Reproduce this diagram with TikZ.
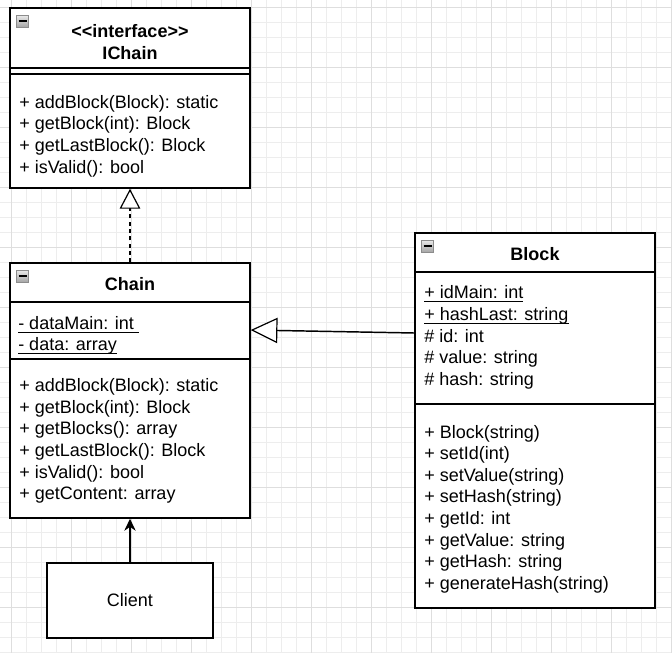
\documentclass[tikz,border=0pt]{standalone}
\usepackage{fontspec}
\setmainfont{Liberation Sans}
\usetikzlibrary{positioning, calc, arrows.meta}

\newcommand{\statm}[1]{\setbox0\hbox{#1}\rlap{\rule[-2.4pt]{\wd0}{0.6pt}}\box0}

\tikzset{
  cls/.style={draw=black, line width=1.1pt, fill=white, rectangle, inner sep=0pt},
  title/.style={font=\fontsize{13.5}{16.2}\selectfont\bfseries, align=center, inner sep=0pt},
  members/.style={font=\fontsize{13.5}{16.2}\selectfont, align=left, anchor=west, inner sep=0pt},
  sep/.style={line width=1.1pt},
  minigrid/.style={color=black!7, line width=0.5pt},
  majorgrid/.style={color=black!13, line width=0.6pt},
  fold/.style={draw=black!45, line width=0.5pt, top color=black!8, bottom color=black!35, minimum size=9pt, inner sep=0pt},
  assoc/.style={line width=1.1pt, -{Stealth[length=9pt, width=8.5pt]}},
  realize/.style={line width=1.1pt, dash pattern=on 3pt off 2.5pt, -{Triangle[length=15pt, width=15.5pt, fill=white, line width=0.9pt]}},
  inherit/.style={line width=1.1pt, -{Triangle[length=20pt, width=19pt, fill=white, line width=0.9pt]}},
}

\begin{document}
\begin{tikzpicture}[x=0.75pt, y=-0.75pt]
\useasboundingbox (0,0) rectangle (672,653);

% grid
\foreach \x in {11,26,...,671} \draw[minigrid] (\x,0) -- (\x,653);
\foreach \y in {7,22,...,652} \draw[minigrid] (0,\y) -- (672,\y);
\foreach \x in {11,71,...,671} \draw[majorgrid] (\x,0) -- (\x,653);
\foreach \y in {7,67,...,652} \draw[majorgrid] (0,\y) -- (672,\y);

% interface
\node[cls, minimum width=180pt, minimum height=135pt] (IChain) at (130,98) {};
\node[title] (IChainTitle) at (130,42) {\hbox{<}\hbox{<}interface\hbox{>}\hbox{>}\\IChain};
\draw[sep] (10,68) -- (250,68);
\draw[sep] (10,74) -- (250,74);
\node[members] (IChainOps) at (19,136) {+ addBlock(Block): static\\+ getBlock(int): Block\\+ getLastBlock(): Block\\+ isValid(): bool};
\node[fold] (IChainFold) at (22.5,21) {};
\draw[line width=0.8pt] ($(IChainFold.center)+(-4,0)$) -- ($(IChainFold.center)+(4,0)$);

% chain
\node[cls, minimum width=180pt, minimum height=191.25pt] (Chain) at (130,390.5) {};
\node[title] (ChainTitle) at (130,284) {Chain};
\draw[sep] (10,302) -- (250,302);
\draw[sep] (10,359) -- (250,359);
\node[members] (ChainAttr) at (18,335.5) {\statm{- dataMain: int\ }\\\statm{- data: array}};
\node[members] (ChainOps) at (19,441) {+ addBlock(Block): static\\+ getBlock(int): Block\\+ getBlocks(): array\\+ getLastBlock(): Block\\+ isValid(): bool\\+ getContent: array};
\node[fold] (ChainFold) at (22.5,276) {};
\draw[line width=0.8pt] ($(ChainFold.center)+(-4,0)$) -- ($(ChainFold.center)+(4,0)$);

% block
\node[cls, minimum width=180pt, minimum height=281.25pt] (Block) at (535,420.5) {};
\node[title] (BlockTitle) at (535,254) {Block};
\draw[sep] (415,272) -- (655,272);
\draw[sep] (415,404) -- (655,404);
\node[members] (BlockAttr) at (424,337.5) {\statm{+ idMain: int}\\\statm{+ hashLast: string}\\\# id: int\\\# value: string\\\# hash: string};
\node[members] (BlockOps) at (424,509) {+ Block(string)\\+ setId(int)\\+ setValue(string)\\+ setHash(string)\\+ getId: int\\+ getValue: string\\+ getHash: string\\+ generateHash(string)};
\node[fold] (BlockFold) at (427.5,246) {};
\draw[line width=0.8pt] ($(BlockFold.center)+(-4,0)$) -- ($(BlockFold.center)+(4,0)$);

% client
\node[cls, minimum width=124.5pt, minimum height=56.25pt, font=\fontsize{13.5}{16.2}\selectfont] (Client) at (130,600.5) {Client};

% links
\draw[assoc] (Client.north) -- (Chain.south);
\draw[realize] (Chain.north) -- (IChain.south);
\draw[inherit] (Block.west |- 0,333) -- (Chain.east |- 0,330);
\end{tikzpicture}
\end{document}
